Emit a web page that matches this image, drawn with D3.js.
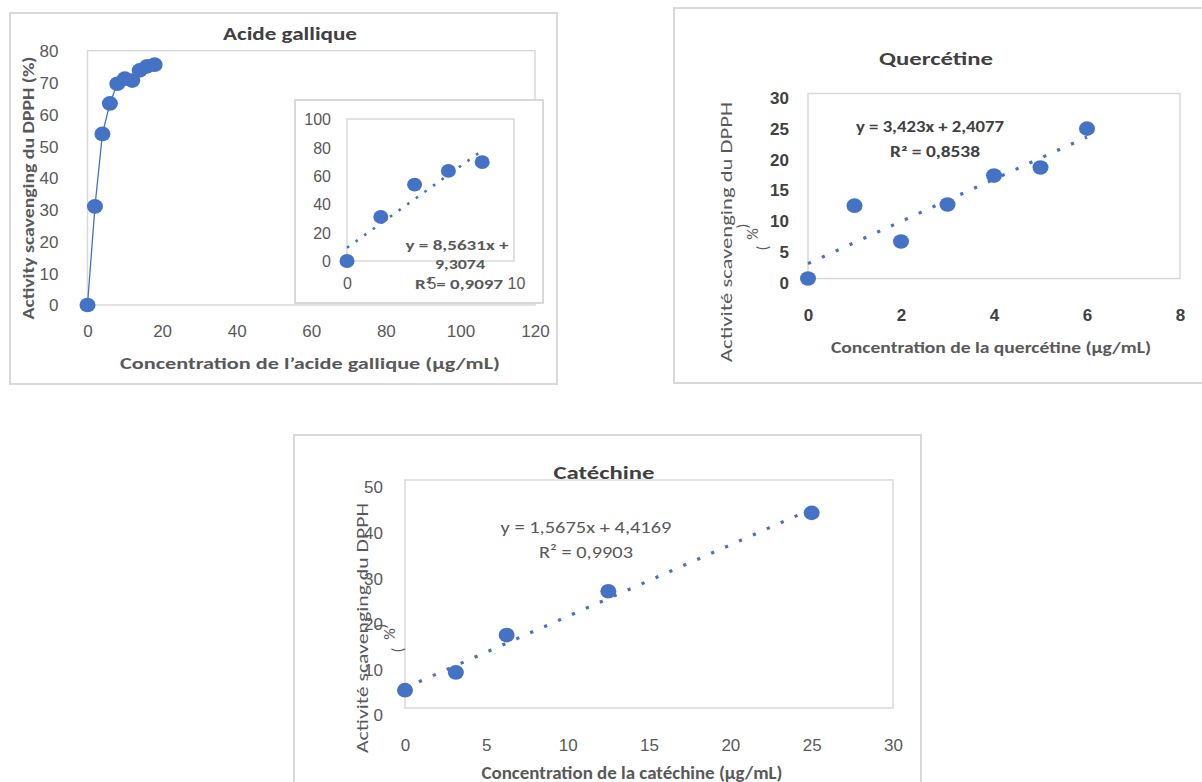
<!DOCTYPE html>
<html>
<head>
<meta charset="utf-8">
<script src="https://cdn.jsdelivr.net/npm/d3@7"></script>
<style>
  body { margin: 0; background: #fff; }
  svg { display: block; font-family: Carlito, Calibri, Lato, "Liberation Sans", sans-serif; }
</style>
</head>
<body>
<div id="fig"></div>
<script>
(function () {

  // --- data ---
  // Acide gallique (main curve)
  const gallicX = [0, 2, 4, 6, 8, 10, 12, 14, 16, 18];
  const gallicY = [0, 31, 53.8, 63.4, 69.6, 71.2, 70.6, 73.8, 75.1, 75.6];
  // Acide gallique (inset, linear part)
  const insetX = [0, 2, 4, 6, 8];
  const insetY = [0, 31, 53.8, 63.4, 69.6];
  const insetFit = [8.5631, 9.3074];
  // Quercétine
  const quercX = [0, 1, 2, 3, 4, 5, 6];
  const quercY = [0, 11.8, 6, 12, 16.7, 18, 24.3];
  const quercFit = [3.423, 2.4077];
  // Catéchine
  const catX = [0, 3.125, 6.25, 12.5, 25];
  const catY = [3.9, 7.8, 16.0, 25.6, 42.8];
  const catFit = [1.5675, 4.4169];

  // tick values
  const gallicXTicks = [0, 20, 40, 60, 80, 100, 120];
  const gallicYTicks = [0, 10, 20, 30, 40, 50, 60, 70, 80];
  const insetXTicks = [0, 5, 10];
  const insetYTicks = [0, 20, 40, 60, 80, 100];
  const quercXTicks = [0, 2, 4, 6, 8];
  const quercYTicks = [0, 5, 10, 15, 20, 25, 30];
  const catXTicks = [0, 5, 10, 15, 20, 25, 30];
  const catYTicks = [0, 10, 20, 30, 40, 50];

  const blue = "#4472C4";
  const frameCol = "#d9d9d9";

  const svg = d3.select("#fig").append("svg")
    .attr("width", 1202)
    .attr("height", 782);

  const zip = (xs, ys) => xs.map((x, i) => ({ x: x, y: ys[i] }));

  function rect(g, x0, y0, x1, y1, fill, sw) {
    g.append("rect")
      .attr("x", x0).attr("y", y0)
      .attr("width", x1 - x0).attr("height", y1 - y0)
      .attr("fill", fill || "none")
      .attr("stroke", frameCol)
      .attr("stroke-width", sw || 1.5);
  }

  function text(g, s, x, y, o) {
    const t = g.append("text")
      .attr("text-anchor", "middle")
      .attr("dominant-baseline", "central")
      .attr("font-size", o.size)
      .attr("font-weight", o.bold ? "bold" : "normal")
      .attr("fill", o.color || "#595959")
      .attr("transform", "translate(" + x + "," + y + ")" + (o.rot ? " rotate(-90)" : ""))
      .text(s);
    if (o.len) t.attr("textLength", o.len).attr("lengthAdjust", "spacingAndGlyphs");
    return t;
  }

  // axes without lines, Excel-like labels
  function axes(g, x, y, xt, yt, o) {
    const ax = g.append("g")
      .attr("transform", "translate(0," + y.range()[0] + ")")
      .call(d3.axisBottom(x).tickValues(xt).tickSize(0).tickFormat(d3.format("d")));
    ax.select(".domain").remove();
    ax.selectAll("text")
      .attr("y", o.xOff).attr("dy", "0.35em")
      .attr("font-size", o.size).attr("font-family", null)
      .attr("font-weight", o.bold ? "bold" : "normal")
      .attr("fill", o.color);

    const ay = g.append("g")
      .attr("transform", "translate(" + x.range()[0] + ",0)")
      .call(d3.axisLeft(y).tickValues(yt).tickSize(0).tickFormat(d3.format("d")));
    ay.select(".domain").remove();
    ay.selectAll("text")
      .attr("x", -o.yPad).attr("y", o.yShift || 0).attr("dy", "0.35em")
      .attr("font-size", o.size).attr("font-family", null)
      .attr("font-weight", o.bold ? "bold" : "normal")
      .attr("fill", o.color);
  }

  function dots(g, x, y, data, r) {
    g.selectAll(null)
      .data(data)
      .enter().append("ellipse")
      .attr("cx", d => x(d.x))
      .attr("cy", d => y(d.y))
      .attr("rx", r).attr("ry", r * 0.92)
      .attr("fill", blue);
  }

  function trend(g, x, y, xs, fit, w, dash) {
    const ends = d3.extent(xs).map(v => ({ x: v, y: fit[0] * v + fit[1] }));
    g.append("path")
      .datum(ends)
      .attr("d", d3.line().x(d => x(d.x)).y(d => y(d.y)))
      .attr("stroke", blue)
      .attr("stroke-width", w)
      .attr("stroke-dasharray", dash)
      .attr("fill", "none");
  }

  // ---------- Acide gallique ----------
  const g1 = svg.append("g");
  rect(g1, 10, 13, 557, 384, "#fff", 2);
  text(g1, "Acide gallique", 290, 34, { size: 17, bold: true, color: "#404040", len: 134 });
  const x1 = d3.scaleLinear().domain([0, 120]).range([87.5, 535]);
  const y1 = d3.scaleLinear().domain([0, 80]).range([305, 50.7]);
  rect(g1, 87.5, 50.7, 535, 305, "none", 1.5);
  axes(g1, x1, y1, gallicXTicks, gallicYTicks,
    { size: 17, color: "#595959", xOff: 26, yPad: 29 });
  text(g1, "Activity scavenging du DPPH (%)", 29, 188, { size: 15, bold: true, rot: true, len: 263 });
  text(g1, "Concentration de l\u2019acide gallique (\u00b5g/mL)", 310, 363, { size: 16, bold: true, len: 380 });

  const gallic = zip(gallicX, gallicY);
  g1.append("path")
    .datum(gallic)
    .attr("d", d3.line().x(d => x1(d.x)).y(d => y1(d.y)))
    .attr("stroke", blue).attr("stroke-width", 1.3).attr("fill", "none");
  dots(g1, x1, y1, gallic, 8);

  // inset
  rect(g1, 295, 100, 543, 303, "#fff", 2);
  const xi = d3.scaleLinear().domain([0, 10]).range([347, 516]);
  const yi = d3.scaleLinear().domain([0, 100]).range([261, 119]);
  rect(g1, 347, 119, 514, 261, "none", 1.5);
  axes(g1, xi, yi, insetXTicks, insetYTicks,
    { size: 16, color: "#595959", xOff: 22, yPad: 16 });
  trend(g1, xi, yi, insetX, insetFit, 2.6, "2.6 8");
  dots(g1, xi, yi, zip(insetX, insetY), 7.5);
  text(g1, "y = 8,5631x +", 457, 245, { size: 14, bold: true, len: 103 });
  text(g1, "9,3074", 460, 264, { size: 14, bold: true, len: 50 });
  text(g1, "R\u00b2 = 0,9097", 459, 284, { size: 14, bold: true, len: 88 });

  // ---------- Quercétine ----------
  const g2 = svg.append("g");
  rect(g2, 674, 8, 1203, 383, "#fff", 2);
  text(g2, "Quercétine", 936, 58, { size: 19, bold: true, color: "#404040", len: 114 });
  const x2 = d3.scaleLinear().domain([0, 8]).range([808, 1180]);
  const y2 = d3.scaleLinear().domain([0, 30]).range([278.5, 93.5]);
  rect(g2, 808, 93.5, 1180, 278.5, "none", 1.5);
  axes(g2, x2, y2, quercXTicks, quercYTicks,
    { size: 17, bold: true, color: "#404040", xOff: 36.5, yPad: 19, yShift: 4 });
  text(g2, "Activité scavenging du DPPH", 726, 232, { size: 16, rot: true, len: 260 });
  text(g2, ")", 742, 226, { size: 16, rot: true });
  text(g2, "%", 752, 234, { size: 16, rot: true });
  text(g2, "(", 762, 248, { size: 16, rot: true });
  text(g2, "Concentration de la quercétine (\u00b5g/mL)", 991, 347, { size: 16, bold: true, len: 320 });
  trend(g2, x2, y2, quercX, quercFit, 3.2, "3.2 12");
  dots(g2, x2, y2, zip(quercX, quercY), 8);
  text(g2, "y = 3,423x + 2,4077", 930, 127, { size: 15, bold: true, color: "#404040", len: 148 });
  text(g2, "R\u00b2 = 0,8538", 935, 152, { size: 15, bold: true, color: "#404040", len: 90 });

  // ---------- Catéchine ----------
  const g3 = svg.append("g");
  rect(g3, 294, 435, 921, 795, "#fff", 2);
  text(g3, "Catéchine", 604, 473, { size: 17, bold: true, color: "#404040", len: 101 });
  const x3 = d3.scaleLinear().domain([0, 30]).range([405, 893]);
  const y3 = d3.scaleLinear().domain([0, 50]).range([708, 480]);
  rect(g3, 405, 480, 893, 708, "none", 1.5);
  axes(g3, x3, y3, catXTicks, catYTicks,
    { size: 17, color: "#595959", xOff: 37, yPad: 22, yShift: 7 });
  text(g3, "Activité scavenging du DPPH", 362, 628, { size: 16, rot: true, len: 250 });
  text(g3, ")", 380, 626, { size: 16, rot: true });
  text(g3, "%", 389, 634, { size: 16, rot: true });
  text(g3, "(", 397, 650, { size: 16, rot: true });
  text(g3, "Concentration de la catéchine (\u00b5g/mL)", 632, 773, { size: 17, bold: true, len: 301 });
  trend(g3, x3, y3, catX, catFit, 3.2, "3.2 12");
  dots(g3, x3, y3, zip(catX, catY), 8);
  text(g3, "y = 1,5675x + 4,4169", 586, 527, { size: 17, len: 171 });
  text(g3, "R\u00b2 = 0,9903", 586, 552, { size: 17, len: 94 });

})();
</script>
</body>
</html>
